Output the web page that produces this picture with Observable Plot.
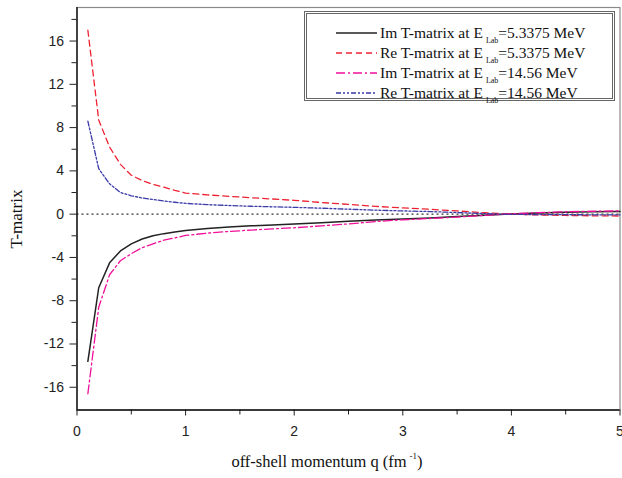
<!DOCTYPE html>
<html>
<head>
<meta charset="utf-8">
<script src="https://cdn.jsdelivr.net/npm/d3@7"></script>
<script src="https://cdn.jsdelivr.net/npm/@observablehq/plot@0.6"></script>
<style>
  html, body { margin: 0; padding: 0; background: #fff; }
  #wrap { position: relative; width: 622px; height: 478px; overflow: hidden; }
  .serif { font-family: "Liberation Serif", "DejaVu Serif", serif; color: #111; }
  #legend { position: absolute; left: 304px; top: 11px; width: 311px; height: 90px;
            border: 3px double #666; background: #fff; box-sizing: border-box; }
  .row { position: absolute; left: 0; height: 20px; width: 100%; }
  .row svg { position: absolute; left: 29px; top: 0; }
  .row span { position: absolute; left: 73px; top: 1px; font-size: 15.5px; white-space: nowrap; }
  .row sub { font-size: 8px; vertical-align: -5px; margin-left: 3px; }
  #xlabel { position: absolute; left: 0; width: 654px; text-align: center; top: 451px; font-size: 16.5px; }
  #xlabel sup { font-size: 9px; vertical-align: 8px; margin-left: 3px; }
  #ylabel { position: absolute; left: 17px; top: 219px; font-size: 17px; transform: translate(-50%, -50%) rotate(-90deg); white-space: nowrap; }
</style>
</head>
<body>
<div id="wrap"></div>
<script>
// off-shell momentum q (fm^-1)
const q      = [0.1, 0.2, 0.3, 0.4, 0.5, 0.6, 0.7, 0.8, 0.9, 1.0, 1.2, 1.4, 1.6, 1.8, 2.0, 2.25, 2.5, 2.75, 3.0, 3.25, 3.5, 3.75, 4.0, 4.25, 4.5, 4.75, 5.0];
// Im T-matrix at E_Lab = 5.3375 MeV
const imT5   = [-13.6, -6.8, -4.5, -3.4, -2.75, -2.3, -2.0, -1.8, -1.65, -1.5, -1.32, -1.18, -1.08, -1.0, -0.92, -0.8, -0.66, -0.54, -0.45, -0.35, -0.22, -0.1, 0.02, 0.1, 0.17, 0.22, 0.25];
// Re T-matrix at E_Lab = 5.3375 MeV
const reT5   = [17.0, 8.7, 6.2, 4.6, 3.6, 3.1, 2.75, 2.5, 2.2, 1.95, 1.78, 1.65, 1.52, 1.4, 1.28, 1.08, 0.9, 0.72, 0.58, 0.45, 0.3, 0.13, 0.0, -0.07, -0.12, -0.15, -0.17];
// Im T-matrix at E_Lab = 14.56 MeV
const imT14  = [-16.6, -8.6, -5.6, -4.3, -3.65, -3.1, -2.75, -2.4, -2.2, -1.97, -1.75, -1.6, -1.47, -1.36, -1.26, -1.08, -0.9, -0.68, -0.52, -0.4, -0.27, -0.12, 0.03, 0.14, 0.22, 0.27, 0.3];
// Re T-matrix at E_Lab = 14.56 MeV
const reT14  = [8.6, 4.2, 2.8, 2.0, 1.7, 1.5, 1.35, 1.22, 1.1, 1.0, 0.88, 0.8, 0.73, 0.68, 0.63, 0.55, 0.46, 0.37, 0.3, 0.24, 0.15, 0.05, -0.02, -0.04, -0.05, -0.06, -0.06];

const xTicks = [0, 1, 2, 3, 4, 5];
const xMinor = [0.5, 1.5, 2.5, 3.5, 4.5];
const yTicks = [-16, -12, -8, -4, 0, 4, 8, 12, 16];
const yMinor = [-14, -10, -6, -2, 2, 6, 10, 14, 18];

const series = [
  {label: "Im T-matrix at E", energy: "=5.3375 MeV", values: imT5,  color: "#222222", dash: null,          width: 1.5},
  {label: "Re T-matrix at E", energy: "=5.3375 MeV", values: reT5,  color: "#ee2233", dash: "6,4",         width: 1.3},
  {label: "Im T-matrix at E", energy: "=14.56 MeV",  values: imT14, color: "#f0109a", dash: "9,3,2,3",     width: 1.3},
  {label: "Re T-matrix at E", energy: "=14.56 MeV",  values: reT14, color: "#3a3aa8", dash: "5,2,2,2,2,2", width: 1.3}
];

const tickFont = {fontFamily: "'Liberation Sans', Arial, sans-serif", fontSize: "14px", color: "#222"};

const lineMarks = series.map(s => Plot.line(q.map((v, i) => ({q: v, t: s.values[i]})), {
  x: "q", y: "t", stroke: s.color, strokeWidth: s.width,
  strokeDasharray: s.dash || undefined
}));

const chart = Plot.plot({
  width: 622,
  height: 478,
  marginLeft: 76.5,
  marginRight: 2.5,
  marginTop: 7,
  marginBottom: 68.5,
  style: tickFont,
  x: {type: "linear", domain: [0, 5]},
  y: {type: "linear", domain: [-18.1, 19.1]},
  marks: [
    Plot.frame({stroke: "#8a8a8a", strokeWidth: 1.2}),
    Plot.ruleY([0], {stroke: "#333", strokeWidth: 1.3, strokeDasharray: "2,3"}),
    ...lineMarks,
    Plot.axisX({ticks: xTicks, tickSize: 6, tickPadding: 10, label: null, tickFormat: d => String(d), stroke: "#222"}),
    Plot.axisX({ticks: xMinor, tickSize: 5, tickFormat: () => "", label: null, stroke: "#222"}),
    Plot.axisY({ticks: yTicks, tickSize: 7, tickPadding: 6, label: null, tickFormat: d => String(d), stroke: "#222"}),
    Plot.axisY({ticks: yMinor, tickSize: 5, tickFormat: () => "", label: null, stroke: "#222"}),
    Plot.ruleX([0], {stroke: "#111", strokeWidth: 1.4}),
    Plot.ruleY([-18.1], {stroke: "#111", strokeWidth: 1.4})
  ]
});

const wrap = document.getElementById("wrap");
wrap.appendChild(chart);

// legend
const legend = document.createElement("div");
legend.id = "legend";
series.forEach((s, i) => {
  const row = document.createElement("div");
  row.className = "row serif";
  row.style.top = (9 + i * 20) + "px";
  const dash = s.dash ? ` stroke-dasharray="${s.dash}"` : "";
  row.innerHTML = `<svg width="42" height="20"><line x1="0" x2="41" y1="10" y2="10" stroke="${s.color}" stroke-width="${s.width}"${dash}/></svg>` +
    `<span>${s.label}<sub>Lab</sub>${s.energy}</span>`;
  legend.appendChild(row);
});
wrap.appendChild(legend);

const xl = document.createElement("div");
xl.id = "xlabel"; xl.className = "serif";
xl.innerHTML = "off-shell momentum q (fm<sup>-1</sup>)";
wrap.appendChild(xl);

const yl = document.createElement("div");
yl.id = "ylabel"; yl.className = "serif";
yl.textContent = "T-matrix";
wrap.appendChild(yl);
</script>
</body>
</html>
